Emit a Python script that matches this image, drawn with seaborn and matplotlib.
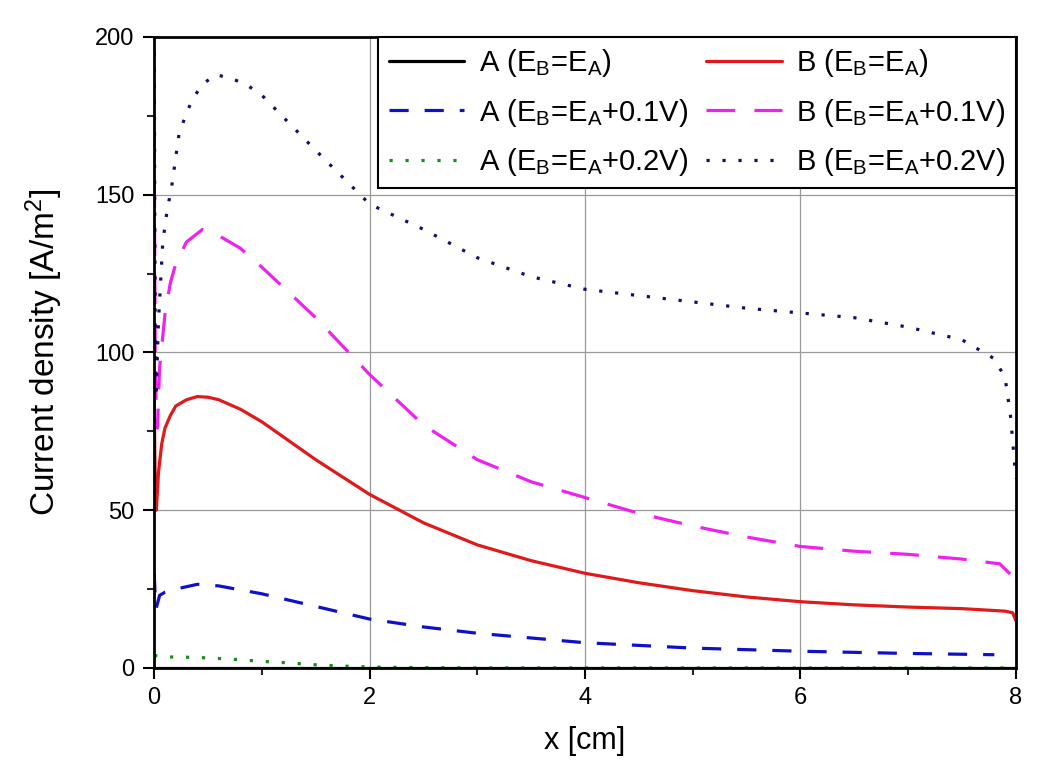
import seaborn as sns
import matplotlib.pyplot as plt
import pandas as pd
import numpy as np

# current density along the electrode
x_a0 = [0.0, 1.0, 2.0, 3.0, 4.0, 5.0, 6.0, 7.0, 8.0]
y_a0 = [0.0, 0.0, 0.0, 0.0, 0.0, 0.0, 0.0, 0.0, 0.0]

x_b0 = [0.0, 0.005, 0.01, 0.02, 0.04, 0.07, 0.1, 0.15, 0.2, 0.3, 0.4, 0.5, 0.6, 0.8, 1.0, 1.25,
        1.5, 2.0, 2.5, 3.0, 3.5, 4.0, 4.5, 5.0, 5.5, 6.0, 6.5, 7.0, 7.5, 7.9, 7.97, 8.0]
y_b0 = [88, 70, 58, 50, 62, 71, 76, 80, 83, 85, 86, 85.8, 85, 82, 78, 72,
        66, 55, 46, 39, 34, 30, 27, 24.5, 22.5, 21, 20, 19.3, 18.8, 18, 17.5, 15]

x_a1 = [0.0, 0.01, 0.02, 0.05, 0.1, 0.2, 0.4, 0.6, 1.0, 1.5, 2.0, 2.5, 3.0, 3.5, 4.0,
        5.0, 6.0, 7.0, 7.8]
y_a1 = [30, 22, 19, 23, 24, 25, 26.5, 26, 23.5, 19.5, 15.5, 13, 11, 9.5, 8,
        6.3, 5.3, 4.6, 4.2]

x_b1 = [0.0, 0.005, 0.01, 0.02, 0.03, 0.05, 0.1, 0.15, 0.2, 0.3, 0.45, 0.6, 0.8, 1.0, 1.25,
        1.5, 2.0, 2.5, 3.0, 3.5, 4.0, 4.5, 5.0, 5.5, 6.0, 6.5, 7.0, 7.5, 7.85, 8.0]
y_b1 = [170, 130, 100, 80, 76, 95, 112, 122, 128, 135, 139, 137, 133, 127, 119,
        111, 93, 77, 66, 59, 54, 49, 45, 41.5, 38.5, 37, 36, 34.5, 33, 28]

x_a2 = [0.0, 0.1, 0.3, 0.5, 0.8, 1.0, 1.25, 1.5, 1.75, 2.0, 2.5, 3.0, 4.0, 5.0, 6.0, 7.0, 8.0]
y_a2 = [4.0, 3.5, 3.4, 3.2, 2.6, 2.1, 1.6, 1.0, 0.6, 0.3, 0.1, 0.0, 0.0, 0.0, 0.0, 0.0, 0.0]

x_b2 = [0.0, 0.005, 0.01, 0.02, 0.04, 0.08, 0.12, 0.16, 0.23, 0.3, 0.37, 0.45, 0.57, 0.7, 0.85,
        1.0, 1.5, 2.0, 2.5, 3.0, 3.5, 4.0, 4.5, 5.0, 5.5, 6.0, 6.5, 7.0, 7.5, 7.8, 7.9,
        7.95, 8.0]
y_b2 = [200, 150, 110, 88, 110, 135, 145, 152, 169, 176, 181, 185, 188, 187, 185,
        181.5, 164, 147, 139, 130, 124, 120, 118, 116, 114, 112.5, 111, 108, 104, 98, 92,
        80, 60]

series = [
    ('A (E$_B$=E$_A$)', x_a0, y_a0, 'black', None),
    ('B (E$_B$=E$_A$)', x_b0, y_b0, '#e0191b', None),
    ('A (E$_B$=E$_A$+0.1V)', x_a1, y_a1, '#1010c8', (6, 5)),
    ('B (E$_B$=E$_A$+0.1V)', x_b1, y_b1, '#ee22ee', (9, 6)),
    ('A (E$_B$=E$_A$+0.2V)', x_a2, y_a2, '#1a8a1a', (1, 4)),
    ('B (E$_B$=E$_A$+0.2V)', x_b2, y_b2, '#10106a', (1, 4)),
]

sns.set_style('ticks')
plt.rcParams['font.family'] = ['Liberation Sans', 'DejaVu Sans']
plt.rcParams['mathtext.default'] = 'regular'
plt.rcParams['text.color'] = 'black'
plt.rcParams['axes.labelcolor'] = 'black'

fig = plt.figure(figsize=(10.56, 7.84), dpi=100)
ax = fig.add_axes([0.146, 0.148, 0.816, 0.805])

for label, xs, ys, color, dash in series:
    df = pd.DataFrame({'x': xs, 'y': ys})
    sns.lineplot(data=df, x='x', y='y', ax=ax, color=color, lw=2.3,
                 label=label, sort=False)
    if dash is not None:
        ax.lines[-1].set_dashes(dash)

ax.set_xlim(0, 8)
ax.set_ylim(0, 200)
ax.set_xticks([0, 2, 4, 6, 8])
ax.set_xticks([1, 3, 5, 7], minor=True)
ax.set_yticks([0, 50, 100, 150, 200])
ax.set_yticks([25, 75, 125, 175], minor=True)
ax.grid(True, which='major', color='#999999', lw=0.9)
ax.tick_params(which='major', direction='out', length=8, width=1.5, labelsize=17,
               colors='black', pad=6)
ax.tick_params(which='minor', direction='out', length=5, width=1.5)
for sp in ax.spines.values():
    sp.set_linewidth(2)
    sp.set_color('black')

ax.set_xlabel('x [cm]', fontsize=22, labelpad=12)
ax.set_ylabel('Current density [A/m$^2$]', fontsize=24, labelpad=22)

# row-wise order like the original: A / B pairs on each row
handles, labels = ax.get_legend_handles_labels()
order = [0, 2, 4, 1, 3, 5]
leg = ax.legend([handles[i] for i in order], [labels[i] for i in order],
                ncol=2, loc='upper right', fontsize=21, frameon=True, fancybox=False,
                edgecolor='black', framealpha=1, handlelength=2.6, columnspacing=0.6,
                borderaxespad=0.0, labelspacing=0.6, handletextpad=0.5, borderpad=0.35)
leg.get_frame().set_linewidth(1.5)

fig.savefig('out.png', dpi=100)
